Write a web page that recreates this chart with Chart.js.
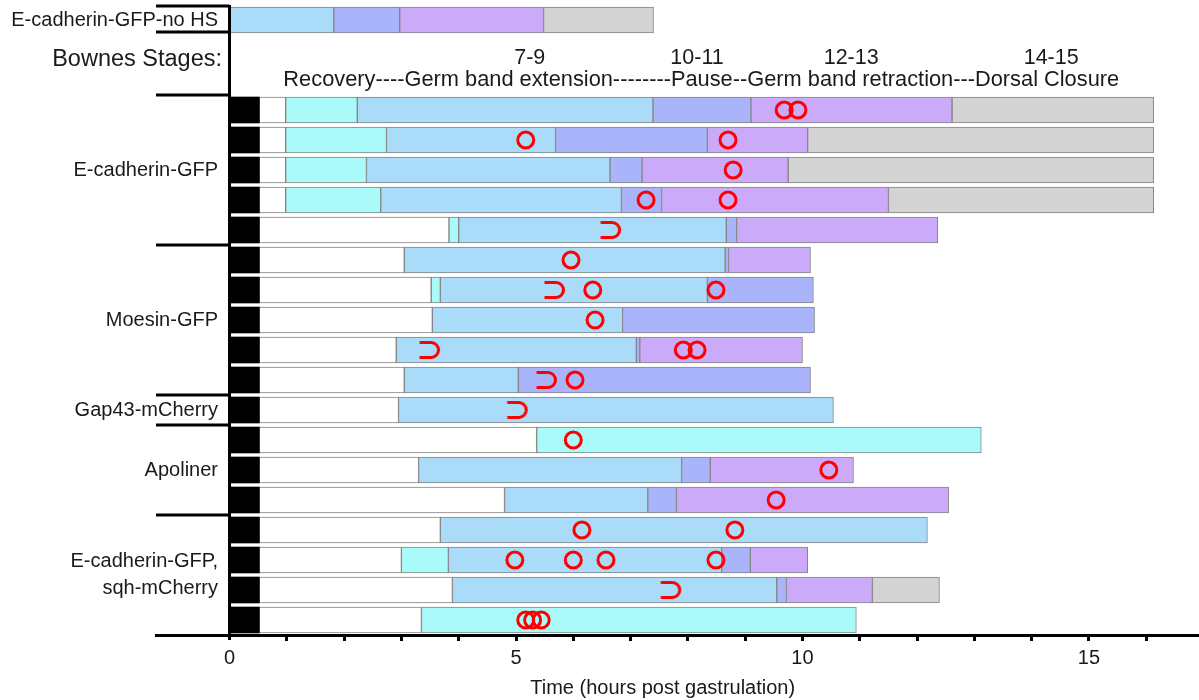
<!DOCTYPE html>
<html>
<head>
<meta charset="utf-8">
<script src="https://cdn.jsdelivr.net/npm/chart.js@4/dist/chart.umd.min.js"></script>
<style>
  html, body { margin: 0; padding: 0; background: #fff; }
  #wrap { width: 1199px; height: 700px; }
</style>
</head>
<body>
<div id="wrap"><canvas id="chart" width="1199" height="700"></canvas></div>
<script>
// one key per row slot; slots 1-2 hold the "Bownes Stages" text
const rowKeys = Array.from({ length: 21 }, (_, i) => 'r' + i);

// end time (hours) of each phase per row, null = phase not seen
const heatEnd  = [null, null, null, 0.52, 0.52, 0.52, 0.52, 0.52, 0.52, 0.52, 0.52, 0.52, 0.52, 0.52, 0.52, 0.52, 0.52, 0.52, 0.52, 0.52, 0.52];
const whiteEnd = [null, null, null, 0.98, 0.98, 0.98, 0.98, 3.83, 3.05, 3.52, 3.54, 2.91, 3.05, 2.95, 5.36, 3.30, 4.80, 3.68, 3.00, 3.89, 3.35];
const cyanEnd  = [null, null, null, 2.23, 2.74, 2.39, 2.64, 4.00, null, 3.68, null, null, null, null, 13.12, null, null, null, 3.82, null, 10.94];
const blueEnd  = [1.82, null, null, 7.39, 5.69, 6.64, 6.84, 8.67, 8.65, 8.34, 6.86, 7.10, 5.04, 10.54, null, 7.89, 7.30, 12.18, 8.59, 9.55, null];
const periEnd  = [2.97, null, null, 9.10, 8.34, 7.20, 7.54, 8.85, 8.71, 10.19, 10.21, 7.16, 10.14, null, null, 8.39, 7.80, null, 9.09, 9.72, null];
const lavEnd   = [5.48, null, null, 12.61, 10.09, 9.75, 11.50, 12.36, 10.14, null, null, 10.00, null, null, null, 10.89, 12.55, null, 10.09, 11.22, null];
const grayEnd  = [7.40, null, null, 16.13, 16.13, 16.13, 16.13, null, null, null, null, null, null, null, null, null, null, null, null, 12.39, null];

// red markers: [hours, row]
const circles = [
  [9.68, 3], [9.92, 3], [5.17, 4], [8.70, 4], [8.79, 5], [7.27, 6], [8.70, 6],
  [5.96, 8], [6.34, 9], [8.49, 9], [6.38, 10], [7.92, 11], [8.16, 11], [6.03, 12],
  [6.00, 14], [10.46, 15], [9.54, 16], [6.15, 17], [8.82, 17],
  [4.98, 18], [6.00, 18], [6.57, 18], [8.49, 18], [5.17, 20], [5.29, 20], [5.44, 20]
];
const cups = [[6.66, 7], [5.68, 9], [3.50, 11], [5.54, 12], [5.03, 13], [7.71, 19]];

// left-hand group labels: [text lines, row]
const groups = [
  [['E-cadherin-GFP-no HS'], 0],
  [['E-cadherin-GFP'], 5],
  [['Moesin-GFP'], 10],
  [['Gap43-mCherry'], 13],
  [['Apoliner'], 15],
  [['E-cadherin-GFP,', 'sqh-mCherry'], 18.5]
];
const groupBreaks = [2.5, 7.5, 12.5, 13.5, 16.5];
const stageLabels = ['7-9', '10-11', '12-13', '14-15'];
const stageAt = [5.24, 8.16, 10.85, 14.34];
const phaseText = 'Recovery----Germ band extension--------Pause--Germ band retraction---Dorsal Closure';
const axisTitle = 'Time (hours post gastrulation)';

const FONT = "'Liberation Sans', Arial, sans-serif";
const TEXT = '#1a1a1a';

const phases = [
  { ends: whiteEnd, color: '#ffffff' },
  { ends: cyanEnd, color: '#aafafa' },
  { ends: blueEnd, color: '#aadcf9' },
  { ends: periEnd, color: '#aab4fa' },
  { ends: lavEnd, color: '#ccaafa' },
  { ends: grayEnd, color: '#d3d3d3' }
];

// turn the phase end times into floating [start, end] bars
const ranges = phases.map(() => []);
rowKeys.forEach((_, i) => {
  let start = heatEnd[i] != null ? heatEnd[i] : 0;
  phases.forEach((p, k) => {
    const e = p.ends[i];
    if (e == null) { ranges[k].push(null); return; }
    ranges[k].push([start, e]);
    start = e;
  });
});

function cupImage() {
  const c = document.createElement('canvas');
  c.width = 24; c.height = 22;
  const g = c.getContext('2d');
  g.strokeStyle = '#ff0000';
  g.lineWidth = 3;
  g.beginPath();
  g.moveTo(1.5, 3.5);
  g.lineTo(13, 3.5);
  g.arc(13, 11, 7.5, -Math.PI / 2, Math.PI / 2);
  g.lineTo(1.5, 18.5);
  g.stroke();
  return c;
}

const barBase = {
  grouped: false,
  barThickness: 26,
  borderWidth: 1,
  borderColor: '#858585',
  borderSkipped: false,
  order: 5
};

const datasets = [
  {
    type: 'scatter', label: 'circles', order: 0,
    data: circles.map(([h, r]) => ({ x: h, y: rowKeys[r] })),
    pointStyle: 'circle', pointRadius: 8, borderWidth: 3,
    borderColor: '#ff0000', backgroundColor: 'rgba(0,0,0,0)'
  },
  {
    type: 'scatter', label: 'cups', order: 0,
    data: cups.map(([h, r]) => ({ x: h, y: rowKeys[r] })),
    pointStyle: cupImage(), pointRadius: 10
  },
  Object.assign({}, barBase, {
    label: 'heat shock', order: 4, borderWidth: 0, backgroundColor: '#000',
    data: heatEnd.map(e => (e == null ? null : [0, e]))
  })
].concat(phases.map((p, k) => Object.assign({}, barBase, {
  label: 'phase' + k, backgroundColor: p.color, data: ranges[k]
})));

const decor = {
  id: 'decor',
  afterDraw(chart) {
    const { ctx, scales: { x, y } } = chart;
    const x0 = x.getPixelForValue(0);
    const left = x.left;
    ctx.save();
    ctx.strokeStyle = '#000';
    ctx.lineWidth = 3;
    ctx.beginPath();
    ctx.moveTo(x0, y.top);
    ctx.lineTo(x0, y.bottom + 5);
    // group separators on the left
    const top = y.getPixelForValue(-0.5) + 1;
    ctx.moveTo(left, top); ctx.lineTo(x0, top);
    const under = y.getPixelForValue(0) + 12;
    ctx.moveTo(left, under); ctx.lineTo(x0, under);
    groupBreaks.forEach(b => {
      const py = y.getPixelForValue(b);
      ctx.moveTo(left, py); ctx.lineTo(x0, py);
    });
    ctx.stroke();

    ctx.fillStyle = TEXT;
    ctx.textAlign = 'right';
    ctx.textBaseline = 'middle';
    ctx.font = '20px ' + FONT;
    groups.forEach(([lines, r]) => {
      const cy = y.getPixelForValue(r);
      const lh = 27;
      lines.forEach((t, i) => {
        ctx.fillText(t, 218, cy + (i - (lines.length - 1) / 2) * lh);
      });
    });

    ctx.font = '23.5px ' + FONT;
    ctx.fillText('Bownes Stages:', 222, y.getPixelForValue(1.33));

    ctx.textAlign = 'center';
    ctx.font = '21.5px ' + FONT;
    stageLabels.forEach((t, i) => {
      ctx.fillText(t, x.getPixelForValue(stageAt[i]), y.getPixelForValue(1.27));
    });
    ctx.textAlign = 'left';
    ctx.font = '21.8px ' + FONT;
    ctx.fillText(phaseText, x.getPixelForValue(0.94), y.getPixelForValue(2.0));

    ctx.textAlign = 'center';
    ctx.font = '20px ' + FONT;
    ctx.fillText(axisTitle, x.getPixelForValue(7.56), 688);
    ctx.restore();
  }
};

new Chart(document.getElementById('chart'), {
  type: 'bar',
  data: { labels: rowKeys, datasets },
  options: {
    indexAxis: 'y',
    responsive: false,
    animation: false,
    layout: { autoPadding: false, padding: { left: 156, right: 0, top: 5, bottom: 0 } },
    plugins: { legend: { display: false }, tooltip: { enabled: false } },
    scales: {
      y: { type: 'category', display: false, offset: true },
      x: {
        type: 'linear',
        min: -1.283,
        max: 16.92,
        afterFit(scale) { scale.height = 65; scale.paddingRight = 0; scale.paddingLeft = 0; },
        border: { display: true, color: '#000', width: 3 },
        grid: {
          drawOnChartArea: false,
          drawTicks: true,
          tickLength: 6,
          tickWidth: 3,
          tickColor: c => (Number.isInteger(c.tick.value) && c.tick.value > 0 ? '#000' : 'rgba(0,0,0,0)')
        },
        ticks: {
          stepSize: 1,
          autoSkip: false,
          includeBounds: false,
          maxRotation: 0,
          padding: 5,
          color: TEXT,
          font: { family: FONT, size: 20 },
          callback: v => (v >= 0 && v % 5 === 0 ? v : '')
        }
      }
    }
  },
  plugins: [decor]
});
</script>
</body>
</html>
